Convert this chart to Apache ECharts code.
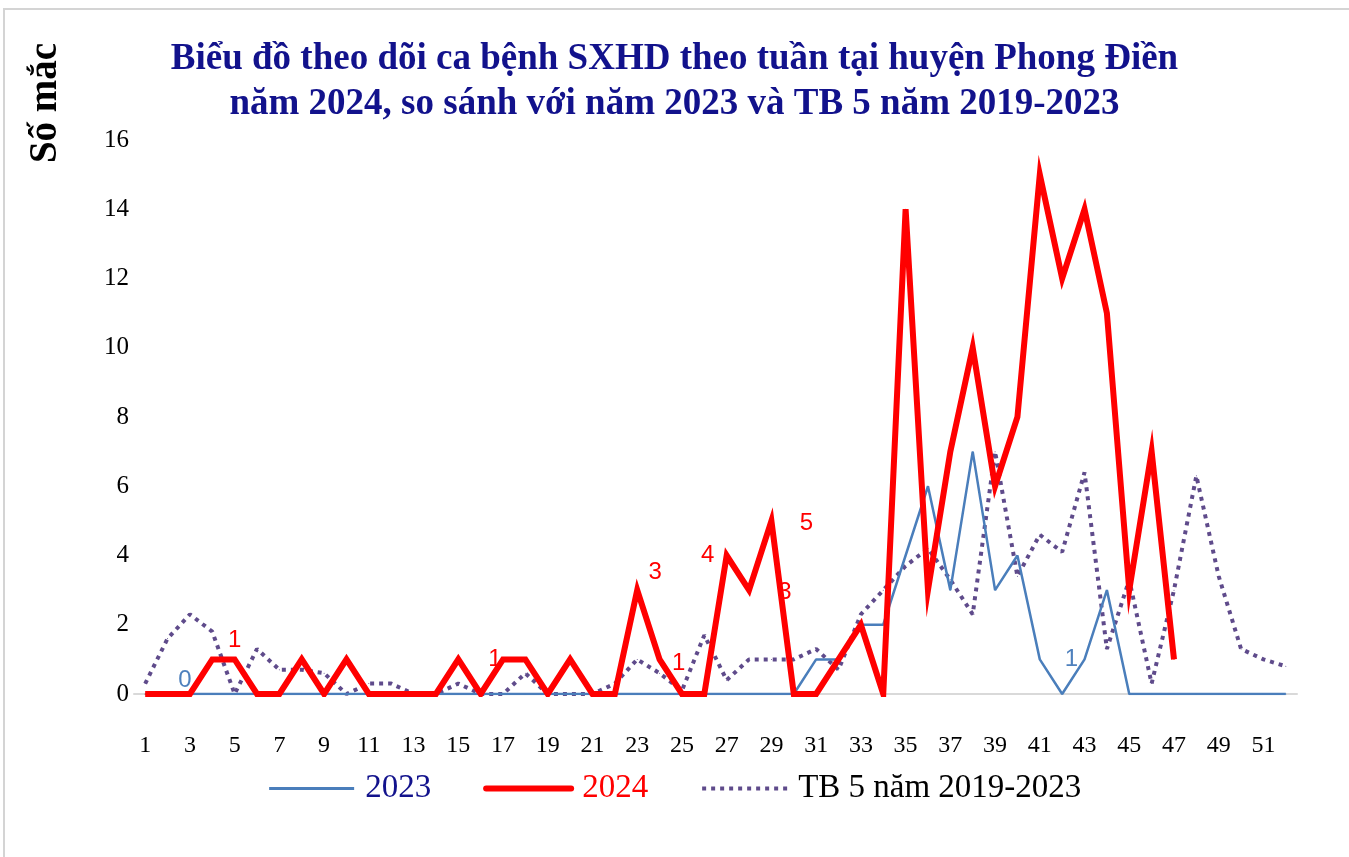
<!DOCTYPE html>
<html>
<head>
<meta charset="utf-8">
<title>SXHD Phong Điền</title>
<script src="https://cdn.jsdelivr.net/npm/echarts@6/dist/echarts.min.js"></script>
<style>
  html, body { margin: 0; padding: 0; background: #fff; }
  #chart { width: 1349px; height: 857px; }
</style>
</head>
<body>
<div id="chart"></div>
<script>
// tuần 1..52
const weeks = [];
for (let i = 1; i <= 52; i++) weeks.push(String(i));

// số mắc năm 2023
const cases2023 = [0,0,0,0,0,0,0,0,0,0, 0,0,0,0,0,0,0,0,0,0, 0,0,0,0,0,0,0,0,0,0,
  1,1,2,2,4,6,3,7,3,4, 1,0,1,3,0,0,0,0,0,0, 0,0];
// số mắc năm 2024 (đến tuần 47)
const cases2024 = [0,0,0,1,1,0,0,1,0,1, 0,0,0,0,1,0,1,1,0,1, 0,0,3,1,0,0,4,3,5,0,
  0,1,2,0,14,3,7,10,6,8, 15,12,14,11,3,7,1];
// TB 5 năm 2019-2023
const avg5y = [0.3,1.6,2.3,1.8,0,1.3,0.7,0.7,0.6,0, 0.3,0.3,0,0,0.3,0,0,0.6,0,0,
  0,0.3,1,0.6,0.1,1.7,0.4,1,1,1, 1.3,0.7,2.3,3,3.7,4.2,3.3,2.3,7,3.4,
  4.6,4.1,6.4,1.3,3.3,0.3,3,6.3,3.4,1.3, 1,0.8];

const seriesNames = ['2023', '2024', 'TB 5 năm 2019-2023'];
const titleLines = 'Biểu đồ theo dõi ca bệnh SXHD theo tuần tại huyện Phong Điền\nnăm 2024, so sánh với năm 2023 và TB 5 năm 2019-2023';

// nhãn rời rạc như trong hình gốc: tuần -> độ lệch nhãn
const labelOffsets2023 = { 3: [-5, -14], 43: [-13, 0] };
const labelOffsets2024 = { 5: [0, -19], 17: [-8, 0], 23: [18, -18], 24: [19, 4], 27: [-19, 0], 28: [36, 2], 29: [35, 2] };

const serif = '"Liberation Serif", "DejaVu Serif", serif';
const navy = '#12128c';

function withLabels(values, offsets, color) {
  return values.map((v, i) => {
    const off = offsets[i + 1];
    if (!off) return v;
    return {
      value: v,
      label: {
        show: true, position: 'inside', offset: off,
        color: color, fontSize: 24, fontFamily: '"Liberation Sans", sans-serif'
      }
    };
  });
}

const chart = echarts.init(document.getElementById('chart'));
chart.setOption({
  animation: false,
  backgroundColor: '#fff',
  title: {
    text: titleLines,
    left: 'center',
    top: 32,
    textStyle: { fontFamily: serif, fontWeight: 'bold', fontSize: 37, color: navy, lineHeight: 45 }
  },
  graphic: [
    {
      type: 'rect', silent: true, z: -1,
      shape: { x: 4, y: 9, width: 1400, height: 900 },
      style: { fill: 'none', stroke: '#d4d4d4', lineWidth: 2 }
    },
    {
      type: 'text', x: 46, y: 103, rotation: Math.PI / 2,
      style: {
        text: 'Số mắc', fontFamily: serif, fontWeight: 'bold', fontSize: 39,
        fill: '#000', align: 'center', verticalAlign: 'middle'
      }
    }
  ],
  legend: {
    top: 767,
    left: 'center',
    itemWidth: 85,
    itemHeight: 14,
    itemGap: 52,
    itemStyle: { opacity: 0 },
    textStyle: { fontFamily: serif, fontSize: 33, padding: [0, 0, 0, 6] },
    data: [
      { name: seriesNames[0], textStyle: { color: navy }, lineStyle: { width: 3 } },
      { name: seriesNames[1], textStyle: { color: '#ff0000' }, lineStyle: { width: 6, cap: 'round' } },
      { name: seriesNames[2], textStyle: { color: '#000' }, lineStyle: { width: 4 } }
    ]
  },
  grid: { left: 134, right: 52, top: 140, bottom: 163 },
  xAxis: {
    type: 'category',
    data: weeks,
    boundaryGap: true,
    axisLine: { lineStyle: { color: '#d9d9d9', width: 2 } },
    axisTick: { show: false },
    axisLabel: { interval: 1, color: '#000', fontFamily: serif, fontSize: 24, margin: 40 }
  },
  yAxis: {
    type: 'value',
    min: 0, max: 16, interval: 2,
    axisLine: { show: false },
    axisTick: { show: false },
    splitLine: { show: false },
    axisLabel: { color: '#000', fontFamily: serif, fontSize: 25, margin: 5 }
  },
  series: [
    {
      name: seriesNames[0], type: 'line',
      data: withLabels(cases2023, labelOffsets2023, '#4f81bd'),
      symbol: 'circle', symbolSize: 1, showSymbol: true,
      lineStyle: { color: '#4a7ebb', width: 2.5 },
      itemStyle: { color: '#4a7ebb' },
      z: 3
    },
    {
      name: seriesNames[1], type: 'line',
      data: withLabels(cases2024, labelOffsets2024, '#ff0000'),
      symbol: 'circle', symbolSize: 1, showSymbol: true,
      lineStyle: { color: '#ff0000', width: 6, join: 'miter' },
      itemStyle: { color: '#ff0000' },
      z: 4
    },
    {
      name: seriesNames[2], type: 'line',
      data: avg5y,
      symbol: 'circle', symbolSize: 1, showSymbol: true,
      lineStyle: { color: '#5f4b8b', width: 4, type: [4, 5] },
      itemStyle: { color: '#5f4b8b' },
      z: 2
    }
  ]
});
</script>
</body>
</html>
